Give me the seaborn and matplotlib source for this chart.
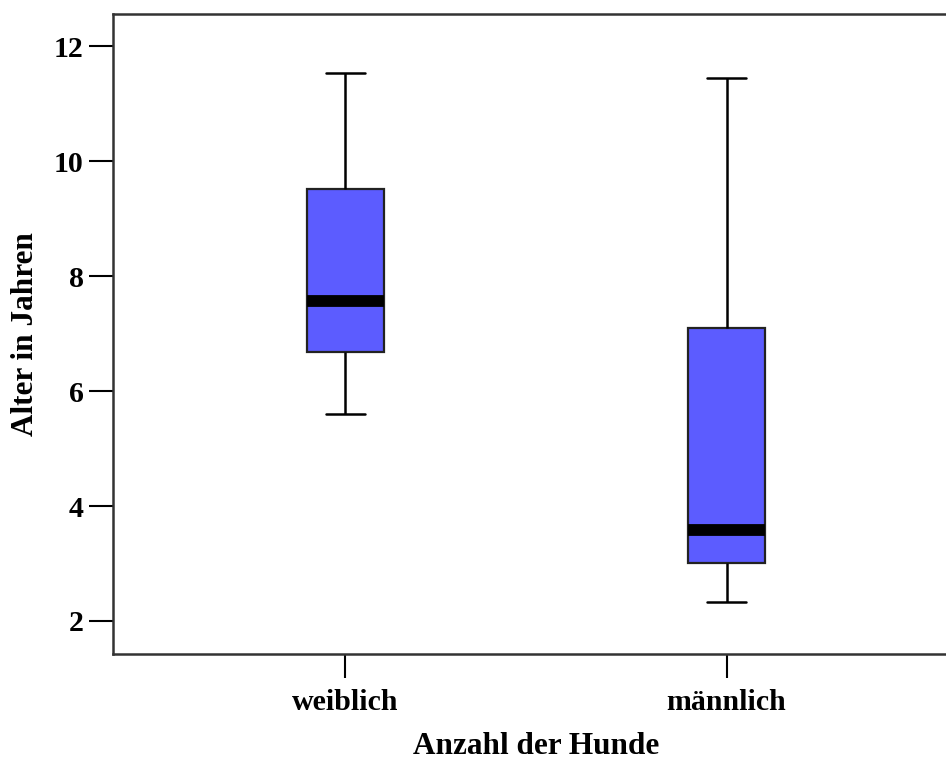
import numpy as np
import pandas as pd
import matplotlib
matplotlib.use("Agg")
import matplotlib.pyplot as plt
import seaborn as sns

# Five-number summaries (min, Q1, median, Q3, max)
categories = ["weiblich", "männlich"]
weiblich_vals = [5.60, 6.68, 7.56, 9.51, 11.53]
maennlich_vals = [2.33, 3.01, 3.58, 7.10, 11.44]
y_ticks = [2, 4, 6, 8, 10, 12]

df = pd.DataFrame({
    "Geschlecht": [categories[0]] * len(weiblich_vals) + [categories[1]] * len(maennlich_vals),
    "Alter": weiblich_vals + maennlich_vals,
})

sns.set_theme(style="white")
plt.rcParams["font.family"] = ["Liberation Serif", "DejaVu Serif"]
plt.rcParams["font.weight"] = "bold"
plt.rcParams["text.color"] = "black"
plt.rcParams["axes.labelcolor"] = "black"
plt.rcParams["xtick.color"] = "black"
plt.rcParams["ytick.color"] = "black"

fig = plt.figure(figsize=(9.46, 7.63), dpi=100)
ax = fig.add_axes([113 / 946, 1 - 654 / 763, (959 - 113) / 946, (654 - 14) / 763])

sns.boxplot(
    data=df, x="Geschlecht", y="Alter", order=categories, ax=ax,
    whis=(0, 100), width=0.2, color="#5c5cff", saturation=1,
    linecolor="black", linewidth=1.6,
    medianprops=dict(color="black", linewidth=8.5, solid_capstyle="butt"),
    whiskerprops=dict(color="black", linewidth=1.8),
    capprops=dict(color="black", linewidth=1.8),
    boxprops=dict(edgecolor="#222222", linewidth=1.6),
)

ax.set_xlim(-0.61, 1.61)
ax.set_ylim(1.426, 12.557)
ax.set_yticks(y_ticks)
ax.set_yticklabels([str(t) for t in y_ticks])

for side in ["left", "bottom", "top", "right"]:
    ax.spines[side].set_color("#333333")
    ax.spines[side].set_linewidth(1.8)

ax.tick_params(axis="both", which="major", length=17, width=1.5, colors="black",
               labelsize=21.5, left=True, bottom=True)
ax.tick_params(axis="y", pad=4)
ax.tick_params(axis="x", pad=8)
for lab in ax.get_xticklabels() + ax.get_yticklabels():
    lab.set_fontweight("bold")
    lab.set_color("black")

ax.set_xlabel("Anzahl der Hunde", fontsize=22.5, fontweight="bold", labelpad=12, color="black")
ax.set_ylabel("Alter in Jahren", fontsize=22.5, fontweight="bold", labelpad=10, color="black")

fig.savefig("out.png", dpi=100)
